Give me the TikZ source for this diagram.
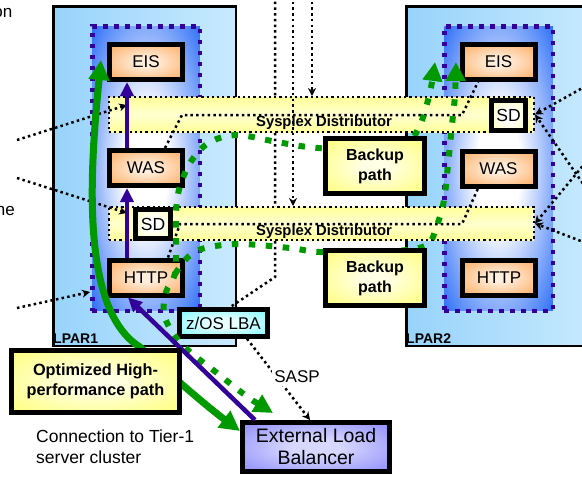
\documentclass[tikz,border=0pt]{standalone}
\usepackage{fontspec}
\setmainfont{Liberation Sans}
\usetikzlibrary{arrows.meta,calc}
\definecolor{orE}{HTML}{FF9433}
\definecolor{orC}{HTML}{FFEEDD}
\definecolor{blE}{HTML}{2A6CF6}
\definecolor{ylE}{HTML}{FFFF55}
\definecolor{ylC}{HTML}{FFFFE6}
\definecolor{sdE}{HTML}{FFFF9A}
\definecolor{cyE}{HTML}{55F8FF}
\definecolor{cyC}{HTML}{E8FFFF}
\definecolor{lbE}{HTML}{7070F8}
\definecolor{lbC}{HTML}{D8D8FF}
\definecolor{bandE}{HTML}{FFFF99}
\definecolor{bandC}{HTML}{FFFFD0}
\definecolor{lparL}{HTML}{98D3FB}
\definecolor{lparR}{HTML}{C8EAFE}
\definecolor{grn}{HTML}{009900}
\definecolor{prp}{HTML}{330099}
\pgfdeclareradialshading{orball}{\pgfpoint{0bp}{0bp}}{color(0bp)=(orC); color(6bp)=(orC); color(46bp)=(orE); color(50bp)=(orE)}
\pgfdeclareradialshading{blball}{\pgfpoint{0bp}{0bp}}{color(0bp)=(white); color(10bp)=(white); color(36bp)=(blE); color(50bp)=(blE)}
\pgfdeclareradialshading{ylball}{\pgfpoint{0bp}{0bp}}{color(0bp)=(ylC); color(6bp)=(ylC); color(46bp)=(ylE); color(50bp)=(ylE)}
\pgfdeclareradialshading{sdball}{\pgfpoint{0bp}{0bp}}{color(0bp)=(white); color(10bp)=(white); color(46bp)=(sdE); color(50bp)=(sdE)}
\pgfdeclareradialshading{cyball}{\pgfpoint{0bp}{0bp}}{color(0bp)=(cyC); color(8bp)=(cyC); color(46bp)=(cyE); color(50bp)=(cyE)}
\pgfdeclareradialshading{lbball}{\pgfpoint{0bp}{0bp}}{color(0bp)=(lbC); color(8bp)=(lbC); color(46bp)=(lbE); color(50bp)=(lbE)}
\tikzset{gtip/.tip={Triangle[length=19pt,width=19pt]}}
\begin{document}
\begin{tikzpicture}[x=1pt,y=-1pt,
  lpar/.style={draw, line width=2.5pt, left color=lparL, right color=lparR, inner sep=0pt},
  innerbox/.style={draw=prp, line width=4.5pt, dash pattern=on 4.5pt off 6.5pt, shade, shading=blball, inner sep=0pt},
  app/.style={draw, line width=5pt, shade, shading=orball, minimum width=73pt, minimum height=35pt, inner sep=0pt, font=\fontsize{17}{20}\selectfont},
  sdbox/.style={draw, line width=5pt, shade, shading=sdball, minimum width=35pt, minimum height=29pt, inner sep=0pt, font=\fontsize{17.5}{20}\selectfont},
  band/.style={draw, line width=2pt, dash pattern=on 2.2pt off 3pt, top color=bandE, bottom color=bandE, middle color=bandC, minimum width=425pt, inner sep=0pt},
  sys/.style={font=\bfseries\fontsize{14.8}{17}\selectfont, inner sep=0pt},
  backup/.style={draw, line width=5pt, shade, shading=ylball, minimum width=99pt, minimum height=55pt, align=center, inner sep=0pt, font=\bfseries\fontsize{16}{20}\selectfont},
  zosbox/.style={draw, line width=4.5pt, shade, shading=cyball, minimum width=88pt, minimum height=27pt, inner sep=0pt, font=\fontsize{17}{20}\selectfont},
  elbbox/.style={draw, line width=5pt, shade, shading=lbball, minimum width=147pt, minimum height=49pt, align=center, inner sep=0pt, font=\fontsize{19.5}{22}\selectfont},
  optbox/.style={draw, line width=5pt, shade, shading=ylball, minimum width=168pt, minimum height=62pt, align=center, inner sep=0pt, font=\bfseries\fontsize{16.3}{20}\selectfont},
  lbl/.style={font=\bfseries\fontsize{14}{16}\selectfont, inner sep=0pt},
  plain/.style={font=\fontsize{17}{20}\selectfont, inner sep=0pt},
  blk/.style={line width=2.5pt, dash pattern=on 2.5pt off 3.2pt},
  blkarrow/.style={blk, -{Stealth[length=8pt,width=8pt]}},
  parr/.style={draw=prp, line width=4.5pt, -{Triangle[length=14pt,width=13pt]}},
  gdash/.style={draw=grn, line width=6pt, dash pattern=on 6.5pt off 10.5pt},
  gsolid/.style={draw=grn, line width=7pt, {Triangle[length=20pt,width=20pt]}-{Triangle[length=20pt,width=20pt]}}
]
\useasboundingbox (0,0) rectangle (582,477);
\clip (0,0) rectangle (582,477);

% LPAR boxes
\node[lpar, minimum width=182.5pt, minimum height=339.5pt] (lpar1) at (144.5,176) {};
\node[lpar, minimum width=192.5pt, minimum height=339.5pt] (lpar2) at (502.5,176) {};
\node[lbl, anchor=west] (lp1) at (53,339) {LPAR1};
\node[lbl, anchor=west] (lp2) at (406,339) {LPAR2};

% inner boxes
\node[innerbox, minimum width=107.5pt, minimum height=284.5pt] (in1) at (146,168.5) {};
\node[innerbox, minimum width=108.5pt, minimum height=284.5pt] (in2) at (498.5,168.5) {};

% z/OS LBA
\node[zosbox] (zos) at (223.5,323) {z/OS LBA};

% vertical dotted line to z/OS LBA
\coordinate (va) at (275,-4);
\coordinate (vbend) at (275,277);
\draw[blk] (va) -- (vbend) -- ([xshift=6.5pt]zos.north);

% Sysplex distributor bands
\node[band, minimum height=35pt] (band1) at (321.5,114.5) {};
\node[band, minimum height=33pt] (band2) at (321.5,223.5) {};
\node[sys] (sys1) at (324,123) {Sysplex Distributor};
\node[sys] (sys2) at (324,232) {Sysplex Distributor};

\coordinate (vb) at (293,-4);
\coordinate (vc) at (312,-4);
\draw[blkarrow] (vb) -- (vb |- band2.north);
\draw[blkarrow] (vc) -- (vc |- band1.north);

% application boxes
\node[app] (eis1) at (146,62) {EIS};
\node[app] (was1) at (146,168) {WAS};
\node[app] (http1) at (146,277.5) {HTTP};
\node[app] (eis2) at (498.5,62) {EIS};
\node[app] (was2) at (498.5,168.5) {WAS};
\node[app] (http2) at (499,277.5) {HTTP};

% SD boxes
\node[sdbox] (sd1) at (153,224) {SD};
\node[sdbox, minimum width=34pt, minimum height=30pt] (sd2) at (508.5,115.5) {SD};

% dotted paths inside bands
\draw[blk] ([xshift=19pt]was1.north) -- (182,115) -- (462,115) -- ([xshift=-20.5pt]eis2.south);
\draw[blk] ([xshift=22pt]http1.north) -- (180,224) -- (462,224) -- ([xshift=-20.5pt]was2.south);

% left dotted arrows
\coordinate (l1) at (17,140);
\coordinate (l2) at (17,178);
\coordinate (l3) at (17,308);
\draw[blkarrow] (l1) -- ([shift={(19pt,9.5pt)}]band1.west);
\draw[blkarrow] (l2) -- ([shift={(19pt,10.5pt)}]band2.west);
\draw[blkarrow] (l3) -- ([yshift=-123.5pt]in1.west);

% right dotted arrows
\coordinate (r1) at (586,86);
\coordinate (r2) at (586,188);
\coordinate (r3) at (586,162);
\coordinate (r4) at (586,243);
\draw[blkarrow] (r1) -- (band1.east);
\draw[blkarrow] (r2) -- (band1.east);
\draw[blkarrow] (r3) -- (band2.east);
\draw[blkarrow] (r4) -- (band2.east);

% External load balancer
\node[elbbox] (elb) at (316,447) {External Load\\Balancer};

% green dashed paths
\coordinate (gUa) at (273,413);
\coordinate (gUb) at (435,62);
\coordinate (gLa) at (175,274);
\coordinate (gLb) at (456,62);
\draw[gdash, gtip-gtip] plot[smooth, tension=0.55] coordinates {(gUa) (245,395) (217,373) (190,352) (174,335) (164,314) (166,292) (gLa) (176,245) (176,212) (180,186) (192,160) (210,142) (237,135) (272,141) (308,147) (360,150) (405,143) (420,125) (430,92) (gUb)};
\draw[gdash, -gtip] plot[smooth, tension=0.55] coordinates {(gLa) (188,257) (205,248) (240,244) (290,248) (320,252) (380,252) (425,246) (437,225) (444,200) (448,165) (452,125) (455,95) (gLb)};

% backup path boxes
\node[backup] (bk1) at (375,166) {Backup\\path};
\node[backup] (bk2) at (375,278) {Backup\\path};

% purple arrows
\draw[parr] ([xshift=-19pt]http1.north) -- ([xshift=-19pt]was1.south);
\draw[parr] ([xshift=-19pt]was1.north) -- ([xshift=-19pt]eis1.south);
\draw[parr] ([xshift=-61pt]elb.north) -- ([xshift=-18pt]http1.south);

% green solid path
\coordinate (gtop) at (101,60);
\coordinate (gmid) at (140,347);
\draw[gsolid] (gtop) .. controls (90,170) and (80,310) .. (gmid) .. controls (165,370) and (205,405) .. ([yshift=-11pt]elb.north west);

% SASP
\draw[blkarrow] ([xshift=23.5pt]zos.south) -- ([xshift=-6pt]elb.north);
\node[plain, fill=white, inner sep=2.5pt] (sasp) at (297,377) {SASP};

% optimized path box
\node[optbox] (opt) at (95.5,381.5) {Optimized High-\\performance path};

% texts
\node[font=\fontsize{17.5}{21}\selectfont, align=left, anchor=west, inner sep=0pt] (conn) at (36,446.5) {Connection to Tier-1\\server cluster};
\node[plain, anchor=base east] (fr1) at (12.5,17) {on};
\node[plain, anchor=base east] (fr2) at (15,215) {ne};
\end{tikzpicture}
\end{document}
